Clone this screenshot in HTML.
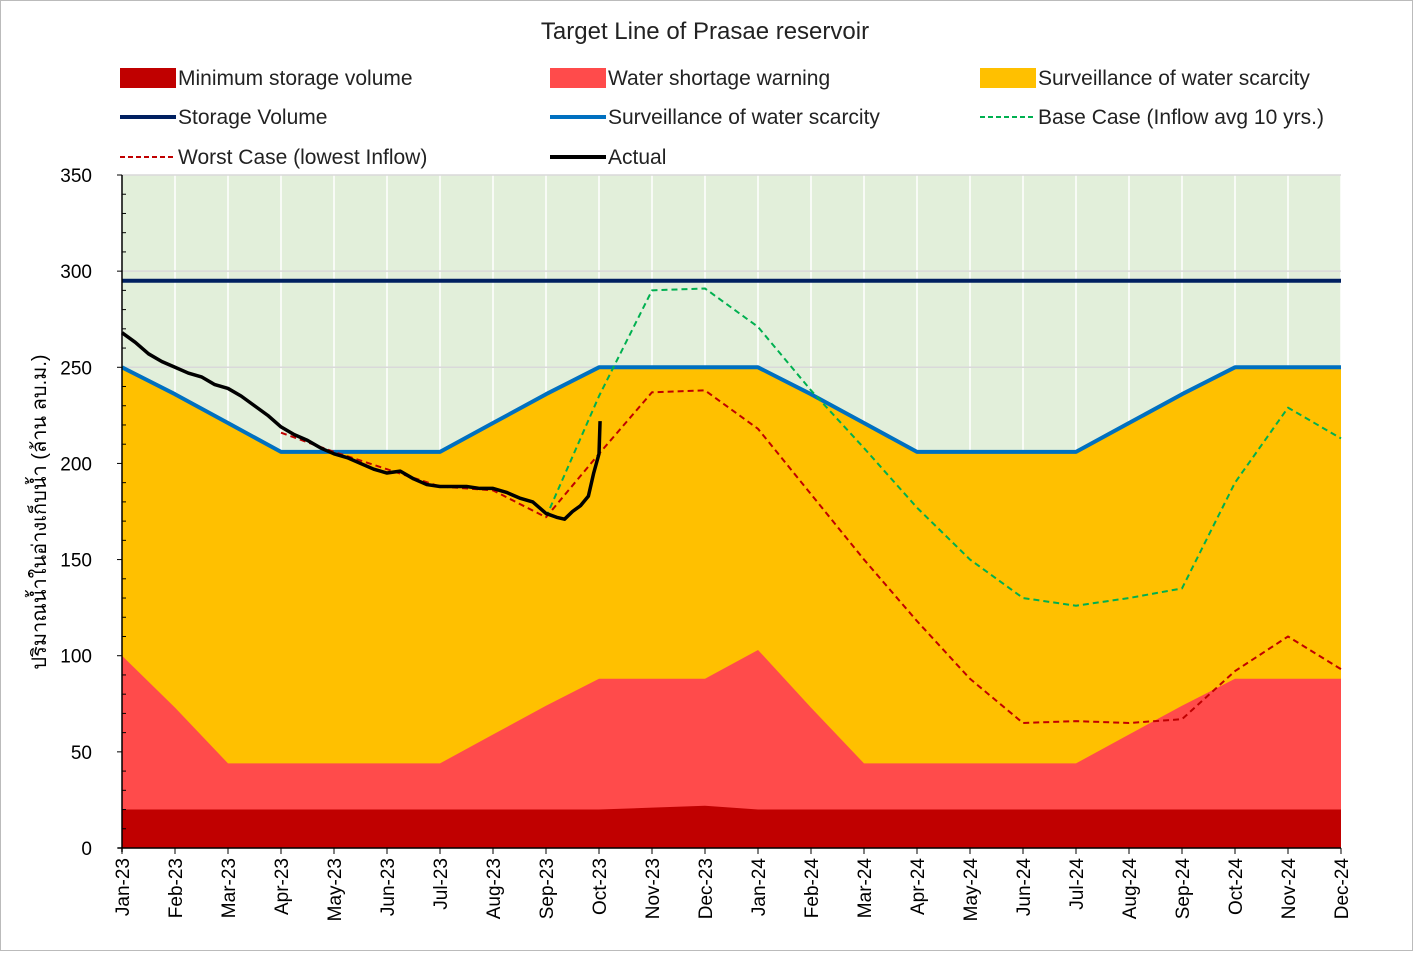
<!DOCTYPE html>
<html><head><meta charset="utf-8"><style>
body{margin:0;background:#fff;font-family:"Liberation Sans","Noto Sans CJK SC",sans-serif}
</style></head><body>
<svg id="c" width="1413" height="951" xmlns="http://www.w3.org/2000/svg" font-family="Liberation Sans, Noto Sans CJK SC, sans-serif">
<rect x="0.5" y="0.5" width="1412" height="950" fill="#fff" stroke="#bbb"/>
<text x="705" y="39" font-size="24" text-anchor="middle" fill="#222">Target Line of Prasae reservoir</text>
<g id="legend"></g>
<g id="plot"></g>
<text transform="translate(46,512) rotate(-90)" font-size="20" text-anchor="middle" fill="#000">ปริมาณน้ำในอ่างเก็บน้ำ (ล้าน ลบ.ม.)</text>
</svg>
<script>
const months=["Jan-23","Feb-23","Mar-23","Apr-23","May-23","Jun-23","Jul-23","Aug-23","Sep-23","Oct-23","Nov-23","Dec-23","Jan-24","Feb-24","Mar-24","Apr-24","May-24","Jun-24","Jul-24","Aug-24","Sep-24","Oct-24","Nov-24","Dec-24"];
const yTicks=[0,50,100,150,200,250,300,350];
const minStorage=[20,20,20,20,20,20,20,20,20,20,21,22,20,20,20,20,20,20,20,20,20,20,20,20];
const shortage=[100,73,44,44,44,44,44,59,74,88,88,88,103,73,44,44,44,44,44,59,74,88,88,88];
const surveillance=[250,236,221,206,206,206,206,221,236,250,250,250,250,236,221,206,206,206,206,221,236,250,250,250];
const storageVolume=295;
const baseCaseX=[8,9,10,11,12,13,14,15,16,17,18,19,20,21,22,23];
const baseCase=[172,235,290,291,271,238,208,177,150,130,126,130,135,190,229,213];
const worstX=[3,4,5,6,7,8,9,10,11,12,13,14,15,16,17,18,19,20,21,22,23];
const worstCase=[216,206,197,188,186,172,205,237,238,218,184,150,118,88,65,66,65,67,92,110,93];
const actualX=[0,0.25,0.5,0.75,1,1.25,1.5,1.75,2,2.25,2.5,2.75,3,3.25,3.5,3.75,4,4.25,4.5,4.75,5,5.25,5.5,5.75,6,6.25,6.5,6.75,7,7.25,7.5,7.75,8,8.2,8.35,8.5,8.65,8.8,8.9,9,9.02];
const actual=[268,263,257,253,250,247,245,241,239,235,230,225,219,215,212,208,205,203,200,197,195,196,192,189,188,188,188,187,187,185,182,180,174,172,171,175,178,183,195,205,222];
const X0=122,DX=53,Y0=848,SY=673/350;
const x=i=>X0+i*DX, y=v=>Y0-v*SY;
const NS="http://www.w3.org/2000/svg";
const plot=document.getElementById('plot'),leg=document.getElementById('legend');
function mk(t,a,p){const e=document.createElementNS(NS,t);for(const k in a)e.setAttribute(k,a[k]);(p||plot).appendChild(e);return e;}
let bg=mk('rect',{x:x(0),y:y(350),width:x(23)-x(0),height:y(0)-y(350),fill:'#e2efda'});


months.forEach((m,i)=>{let l=mk('line',{x1:x(i),x2:x(i),y1:y(350),y2:y(0),stroke:'#fff','stroke-width':1.5});

});
yTicks.forEach(v=>{let l=mk('line',{x1:x(0),x2:x(23),y1:y(v),y2:y(v),stroke:'#d9d9d9','stroke-width':1.5});

});
function area(vals,fill,name){let d='M'+x(0)+','+y(0);vals.forEach((v,i)=>d+='L'+x(i)+','+y(v));d+='L'+x(vals.length-1)+','+y(0)+'Z';
let p=mk('path',{d:d,fill:fill});

}
area(surveillance,'#ffc000','surveillance-area');
area(shortage,'#ff4b4b','water-shortage-area');
area(minStorage,'#c00000','minimum-storage-area');
function line(xs,vs,st,w,dash,name){let d='';vs.forEach((v,i)=>d+=(i?'L':'M')+x(xs[i])+','+y(v));
let p=mk('path',{d:d,fill:'none',stroke:st,'stroke-width':w,'stroke-dasharray':dash||'none','stroke-linejoin':'round'});

}
const idx=months.map((m,i)=>i);
line([0,23],[storageVolume,storageVolume],'#002060',4,null,'storage-volume-line');
line(idx,surveillance,'#0070c0',4,null,'surveillance-line');
line(baseCaseX,baseCase,'#00b050',2,'6,4','base-case-line');
line(worstX,worstCase,'#c00000',2,'6,4','worst-case-line');
line(actualX,actual,'#000',3.5,null,'actual-line');
let ax=mk('line',{x1:x(0),x2:x(0),y1:y(350),y2:y(0)+4,stroke:'#000','stroke-width':1.5});


let bx=mk('line',{x1:x(0)-4,x2:x(23),y1:y(0),y2:y(0),stroke:'#000','stroke-width':1.5});


yTicks.forEach(v=>{mk('line',{x1:x(0)-5,x2:x(0),y1:y(v),y2:y(v),stroke:'#000'});
if(v<350)for(let k=1;k<5;k++)mk('line',{x1:x(0),x2:x(0)+4,y1:y(v+k*10),y2:y(v+k*10),stroke:'#000'});
let t=mk('text',{x:x(0)-30,y:y(v)+7,'font-size':19,'text-anchor':'end',fill:'#000'});t.textContent=v;

});
months.forEach((m,i)=>{mk('line',{x1:x(i),x2:x(i),y1:y(0),y2:y(0)+6,stroke:'#000'});
let t=mk('text',{transform:`translate(${x(i)+7},${y(0)+10}) rotate(-90)`,'font-size':19,'text-anchor':'end',fill:'#000'});t.textContent=m;

});
const L=[['box','#c00000','Minimum storage volume',120,78],['box','#ff4b4b','Water shortage warning',550,78],['box','#ffc000','Surveillance of water scarcity',980,78],
['line','#002060','Storage Volume',120,117],['line','#0070c0','Surveillance of water scarcity',550,117],['dash','#00b050','Base Case (Inflow avg 10 yrs.)',980,117],
['dash','#c00000','Worst Case (lowest Inflow)',120,157],['line','#000','Actual',550,157]];
L.forEach(e=>{const [k,c,t,lx,ly]=e;let g=mk('g',{},leg);


if(k=='box')mk('rect',{x:lx,y:ly-10,width:56,height:20,fill:c},g);
else mk('line',{x1:lx,x2:lx+56,y1:ly,y2:ly,stroke:c,'stroke-width':k=='dash'?2:4,'stroke-dasharray':k=='dash'?'5,3':'none'},g);
let tx=mk('text',{x:lx+58,y:ly+7,'font-size':21,fill:'#222'},g);tx.textContent=t;});
</script>
</body></html>
